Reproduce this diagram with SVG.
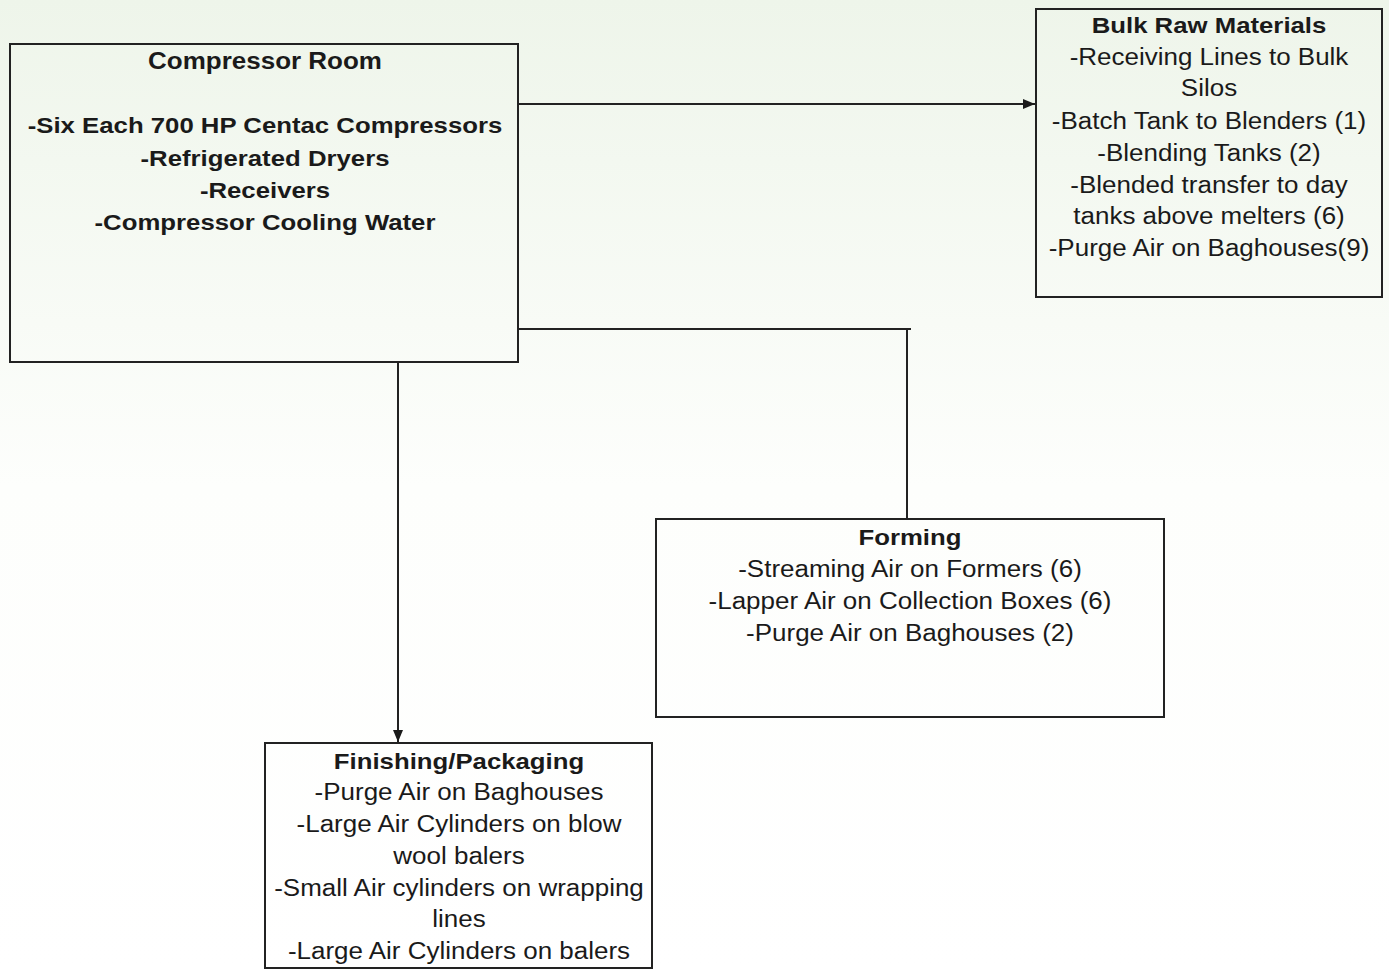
<svg xmlns="http://www.w3.org/2000/svg" width="1389" height="970" viewBox="0 0 1389 970">
<defs>
<linearGradient id="bg" x1="0" y1="0" x2="0" y2="1">
<stop offset="0" stop-color="#eef5ea"/>
<stop offset="0.5" stop-color="#fdfefc"/>
<stop offset="1" stop-color="#ffffff"/>
</linearGradient>
<marker id="arr" viewBox="0 0 12 10" refX="12" refY="5" markerWidth="12" markerHeight="10" markerUnits="userSpaceOnUse" orient="auto">
<path d="M0,0 L12,5 L0,10 z" fill="#1a1a1a"/>
</marker>
<style>
.box{fill:none;stroke:#222;stroke-width:2}
.con{fill:none;stroke:#222;stroke-width:2}
text{font-family:"Liberation Sans",Arial,sans-serif;fill:#1a1a1a;text-anchor:middle;font-size:23px}
.b{font-weight:bold}
</style>
</defs>
<rect width="1389" height="970" fill="url(#bg)"/>
<g id="connectors">
<path class="con" d="M518,104 L1035,104" marker-end="url(#arr)"/>
<path class="con" d="M518,329 L911,329 M907,329 L907,519"/>
<path class="con" d="M398,362 L398,742" marker-end="url(#arr)"/>
</g>
<g id="compressor-room">
<rect class="box" x="10" y="44" width="508" height="318"/>
<text class="b" transform="translate(265,69) scale(1.13,1)">Compressor Room</text>
<text class="b" transform="translate(265,133) scale(1.12,1)">-Six Each 700 HP Centac Compressors</text>
<text class="b" transform="translate(265,166) scale(1.12,1)">-Refrigerated Dryers</text>
<text class="b" transform="translate(265,198) scale(1.12,1)">-Receivers</text>
<text class="b" transform="translate(265,230) scale(1.12,1)">-Compressor Cooling Water</text>
</g>
<g id="bulk-raw-materials">
<rect class="box" x="1036" y="9" width="346" height="288"/>
<text class="b" transform="translate(1209,33) scale(1.12,1)">Bulk Raw Materials</text>
<text transform="translate(1209,65) scale(1.13,1)">-Receiving Lines to Bulk</text>
<text transform="translate(1209,96) scale(1.13,1)">Silos</text>
<text transform="translate(1209,129) scale(1.13,1)">-Batch Tank to Blenders (1)</text>
<text transform="translate(1209,161) scale(1.13,1)">-Blending Tanks (2)</text>
<text transform="translate(1209,193) scale(1.13,1)">-Blended transfer to day</text>
<text transform="translate(1209,224) scale(1.13,1)">tanks above melters (6)</text>
<text transform="translate(1209,256) scale(1.13,1)">-Purge Air on Baghouses(9)</text>
</g>
<g id="forming">
<rect class="box" x="656" y="519" width="508" height="198"/>
<text class="b" transform="translate(910,545) scale(1.12,1)">Forming</text>
<text transform="translate(910,577) scale(1.13,1)">-Streaming Air on Formers (6)</text>
<text transform="translate(910,609) scale(1.13,1)">-Lapper Air on Collection Boxes (6)</text>
<text transform="translate(910,641) scale(1.13,1)">-Purge Air on Baghouses (2)</text>
</g>
<g id="finishing-packaging">
<rect class="box" x="265" y="743" width="387" height="225"/>
<text class="b" transform="translate(459,769) scale(1.12,1)">Finishing/Packaging</text>
<text transform="translate(459,800) scale(1.13,1)">-Purge Air on Baghouses</text>
<text transform="translate(459,832) scale(1.13,1)">-Large Air Cylinders on blow</text>
<text transform="translate(459,864) scale(1.13,1)">wool balers</text>
<text transform="translate(459,896) scale(1.13,1)">-Small Air cylinders on wrapping</text>
<text transform="translate(459,927) scale(1.13,1)">lines</text>
<text transform="translate(459,959) scale(1.13,1)">-Large Air Cylinders on balers</text>
</g>
</svg>
